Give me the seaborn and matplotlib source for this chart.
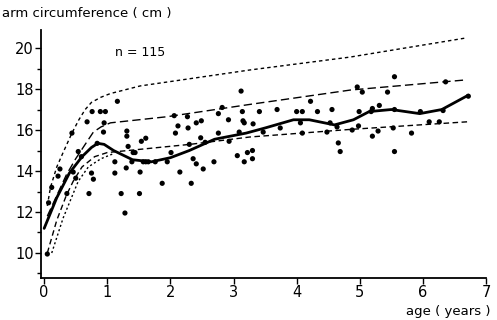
import numpy as np
import pandas as pd
import matplotlib
matplotlib.use("Agg")
import matplotlib.pyplot as plt
import seaborn as sns
from matplotlib.ticker import MultipleLocator

# ---- data ----
pt_age = [0.05, 0.07, 0.12, 0.22, 0.36, 0.46, 0.50, 0.71, 0.75, 0.78, 0.54, 0.59, 0.68, 0.76,
          0.89, 0.97, 0.95, 0.94, 0.84, 0.44,
          1.16, 1.31, 1.31, 1.33, 1.54, 1.61, 1.12, 1.12, 1.22, 1.28, 1.30, 1.39, 1.41, 1.44,
          1.52, 1.51, 1.57, 1.61, 1.65, 1.76, 1.87, 1.95, 2.01,
          2.06, 2.12, 2.08, 2.27, 2.28, 2.41, 2.49, 2.48, 2.55, 2.30, 2.15, 2.33, 2.36, 2.41,
          2.52, 2.69, 2.82, 2.76, 2.92, 2.76, 2.93,
          3.12, 3.14, 3.15, 3.17, 3.09, 3.06, 3.22, 3.30, 3.30, 3.17, 3.31, 3.41, 3.47, 3.69,
          3.74, 4.00, 4.09, 4.06, 4.09, 4.22, 4.33, 4.48, 4.56, 4.53, 4.64, 4.66, 4.69, 4.88,
          4.98, 4.96, 5.04, 4.99, 5.18, 5.20, 5.31, 5.29, 5.20, 5.44, 5.55, 5.55, 5.53, 5.55,
          5.82, 5.96, 6.10, 6.26, 6.32, 6.36, 6.72, 0.25]
pt_arm = [9.95, 12.45, 13.2, 13.75, 12.9, 13.95, 13.65, 12.9, 13.9, 13.6, 14.95, 14.7, 16.4, 16.9,
          16.9, 16.9, 16.35, 15.9, 15.35, 15.85,
          17.4, 15.95, 15.7, 15.2, 15.45, 15.6, 14.45, 13.9, 12.9, 11.95, 14.15, 14.45, 14.9, 14.9,
          13.95, 12.9, 14.45, 14.45, 14.45, 14.45, 13.4, 14.45, 14.9,
          16.7, 16.2, 15.85, 16.65, 16.1, 16.35, 16.45, 15.62, 15.4, 15.3, 13.95, 13.4, 14.6, 14.35,
          14.1, 14.45, 17.1, 16.8, 16.5, 15.85, 15.45,
          17.9, 16.9, 16.45, 16.35, 15.9, 14.75, 14.9, 15.0, 14.6, 14.45, 16.3, 16.9, 15.9, 17.0,
          16.1, 16.9, 16.9, 16.35, 15.85, 17.4, 16.9, 15.9, 17.0, 16.35, 16.15, 15.37, 14.95, 16.0,
          16.2, 18.1, 17.85, 16.9, 16.9, 17.05, 17.2, 15.95, 15.7, 17.85, 18.6, 17.0, 16.1, 14.95,
          15.85, 16.9, 16.4, 16.4, 16.95, 18.35, 17.65, 14.1]

mean_age = [0.0, 0.2, 0.4, 0.6, 0.75, 0.85, 0.95, 1.1, 1.4, 1.7, 2.0, 2.3, 2.7, 3.2, 3.5, 3.95,
            4.2, 4.6, 4.9, 5.15, 5.5, 5.95, 6.3, 6.72]
mean_arm = [11.2, 12.7, 13.9, 14.7, 15.15, 15.35, 15.3, 15.0, 14.55, 14.45, 14.65, 15.0, 15.55,
            15.85, 16.1, 16.5, 16.5, 16.25, 16.5, 16.9, 17.0, 16.8, 17.0, 17.7]

p97_age = [0.05, 0.1, 0.2, 0.3, 0.44, 0.55, 0.65, 0.75, 0.9, 1.05, 1.52, 3.26, 4.85, 6.7]
p97_arm = [12.3, 13.2, 14.2, 14.9, 15.85, 16.5, 17.0, 17.35, 17.6, 17.78, 18.15, 18.93, 19.56, 20.5]

p90_age = [0.05, 0.2, 0.35, 0.5, 0.65, 0.78, 0.9, 1.05, 1.95, 3.26, 4.85, 6.7]
p90_arm = [11.8, 12.8, 13.8, 14.6, 15.3, 15.9, 16.15, 16.35, 16.65, 17.25, 17.95, 18.45]

p10_age = [0.05, 0.2, 0.35, 0.46, 0.6, 0.8, 1.0, 2.31, 3.26, 4.85, 6.7]
p10_arm = [10.0, 11.6, 12.8, 13.5, 14.2, 14.7, 14.9, 15.3, 15.66, 16.03, 16.4]

p3_age = [0.12, 0.3, 0.54, 0.7, 0.9, 1.1]
p3_arm = [10.0, 11.7, 13.5, 14.2, 14.6, 14.85]

x_ticks = [0, 1, 2, 3, 4, 5, 6, 7]
y_ticks = [10, 12, 14, 16, 18, 20]

# ---- plot ----
sns.set_theme(style="white")
plt.rcParams["font.family"] = ["DejaVu Sans"]

fig = plt.figure(figsize=(4.97, 3.2), dpi=100)
ax = fig.add_axes([41 / 497, 1 - 278 / 320, 445 / 497, 248 / 320])

pts = pd.DataFrame({"age": pt_age, "arm": pt_arm})
sns.scatterplot(data=pts, x="age", y="arm", ax=ax, color="black", s=14,
                edgecolor="none", zorder=3)

def curve(a, v, **kw):
    df = pd.DataFrame({"age": a, "arm": v})
    sns.lineplot(data=df, x="age", y="arm", ax=ax, sort=False, estimator=None,
                 color="black", **kw)

curve(mean_age, mean_arm, linewidth=2.0)
curve(p97_age, p97_arm, linewidth=1.0, linestyle=(0, (2.5, 2.2)))
curve(p90_age, p90_arm, linewidth=1.0, linestyle=(0, (6, 3)))
curve(p10_age, p10_arm, linewidth=1.0, linestyle=(0, (4, 2.5)))
curve(p3_age, p3_arm, linewidth=1.0, linestyle=(0, (1.5, 1.8)))

ax.set_xlim(-0.05, 7.0)
ax.set_ylim(8.78, 20.88)
ax.set_xticks(x_ticks)
ax.set_yticks(y_ticks)
ax.yaxis.set_minor_locator(MultipleLocator(1))
ax.set_xlabel("")
ax.set_ylabel("")

for s in ["top", "right"]:
    ax.spines[s].set_visible(False)
for s in ["left", "bottom"]:
    ax.spines[s].set_color("black")
    ax.spines[s].set_linewidth(1.3)

tick_font = ["Liberation Sans Narrow", "DejaVu Sans"]
ax.tick_params(axis="both", which="major", direction="out", length=4, width=1,
               color="black", labelsize=10.5, pad=1, left=True, bottom=True)
ax.tick_params(axis="y", which="minor", direction="out", length=3, width=1,
               color="black", left=True)
for lab in ax.get_xticklabels() + ax.get_yticklabels():
    lab.set_family(tick_font)
    lab.set_color("black")

ax.text(1.12, 19.8, "n = 115", fontsize=9, ha="left", va="center", color="black")
fig.text(2 / 497, 1 - 14 / 320, "arm circumference ( cm )", fontsize=9.5,
         ha="left", va="center", color="black")
fig.text(490 / 497, 1 - 312 / 320, "age ( years )", fontsize=9.5,
         ha="right", va="center", color="black")

fig.savefig("out.png", dpi=100)
